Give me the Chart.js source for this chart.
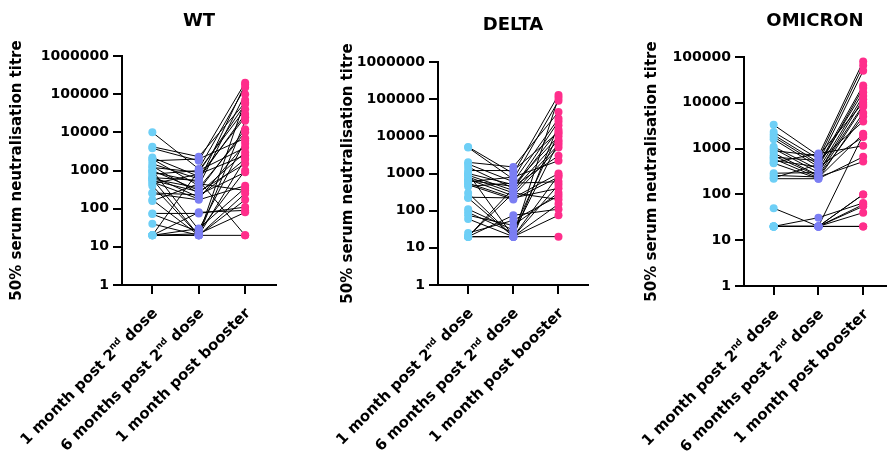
<!DOCTYPE html>
<html>
<head>
<meta charset="utf-8">
<script src="https://cdn.jsdelivr.net/npm/chart.js@4.4.1/dist/chart.umd.min.js"></script>
<style>
  html, body { margin: 0; padding: 0; background: #fff; }
  #wrap { position: relative; width: 890px; height: 459px; }
  canvas { position: absolute; left: 0; top: 0; }
</style>
</head>
<body>
<div id="wrap">
  <canvas id="grafico1" width="890" height="459"></canvas>
  <canvas id="grafico2" width="890" height="459"></canvas>
  <canvas id="grafico3" width="890" height="459"></canvas>
</div>
<script>
// categorias (eixo x) e ticks do eixo y
const timepoints = ['1 month post 2nd dose', '6 months post 2nd dose', '1 month post booster'];
const yTicksWide = [1, 10, 100, 1000, 10000, 100000, 1000000];
const yTicksOmicron = [1, 10, 100, 1000, 10000, 100000];
const yTitle = '50% serum neutralisation titre';

// WT - um valor por participante em cada tempo
const wtMonth1 = [10000, 4200, 3800, 2200, 2000, 1800, 1500, 1300, 1200, 1000, 900, 800, 700, 650, 600, 550, 500, 450, 400, 260, 250, 170, 160, 75, 72, 40, 20, 20, 20, 20, 20, 20, 1000, 600];
const wtMonth6 = [1100, 2300, 1800, 700, 400, 2000, 600, 250, 900, 300, 500, 1000, 200, 550, 350, 280, 180, 800, 20, 230, 170, 20, 450, 75, 25, 20, 30, 20, 80, 22, 1000, 20, 28, 20];
const wtBooster = [150000, 60000, 200000, 25000, 100000, 7000, 30000, 3000, 55000, 12000, 180000, 4000, 2000, 20, 10000, 1500, 5000, 2500, 20000, 900, 400, 70000, 300, 110, 1000, 250, 350, 170, 90, 80, 40000, 2000, 6000, 20];

// DELTA
const deltaMonth1 = [5200, 5000, 2000, 1800, 1500, 1200, 1000, 900, 800, 700, 650, 600, 550, 500, 450, 300, 230, 220, 110, 90, 75, 60, 25, 20, 20, 20, 20, 20, 20, 1000];
const deltaMonth6 = [1000, 700, 1500, 600, 400, 1200, 500, 350, 300, 250, 450, 800, 220, 200, 550, 20, 220, 20, 30, 25, 40, 20, 55, 20, 75, 20, 400, 300, 20, 20];
const deltaBooster = [130000, 90000, 45000, 30000, 25000, 13000, 10000, 8000, 6000, 5000, 3000, 2200, 1000, 800, 600, 110000, 400, 20000, 12000, 7000, 300, 500, 250, 20, 110, 900, 15000, 200, 75, 150];

// OMICRON
const omicronMonth1 = [3300, 2300, 2000, 1800, 1600, 1100, 1000, 900, 800, 700, 650, 600, 550, 500, 480, 290, 260, 230, 220, 50, 20, 20, 20, 20, 20, 20, 20, 20];
const omicronMonth6 = [700, 600, 500, 450, 400, 350, 300, 700, 260, 250, 550, 230, 400, 780, 220, 300, 240, 450, 220, 20, 31, 20, 20, 20, 20, 20, 20, 20];
const omicronBooster = [80000, 65000, 50000, 24000, 21000, 14000, 12000, 10000, 8200, 5000, 3900, 2100, 1800, 1150, 660, 9000, 520, 17000, 6000, 100, 65, 2000, 55, 40, 20, 20, 100, 60];

const pointColors = ['#6ECFF6', '#7B7EF3', '#FF2E8B'];

Chart.defaults.font.family = "'DejaVu Sans', sans-serif";
Chart.defaults.font.weight = 'bold';
Chart.defaults.color = '#000';

// painéis (posição da área do gráfico na página)
const panels = [
    { id: 'grafico1', title: 'WT', series: [wtMonth1, wtMonth6, wtBooster], yTicks: yTicksWide,
      area: { left: 122, top: 56, right: 276, bottom: 285 }, titleY: 21, yTitleX: 17.5, xMin: -0.654, xMax: 2.665 },
    { id: 'grafico2', title: 'DELTA', series: [deltaMonth1, deltaMonth6, deltaBooster], yTicks: yTicksWide,
      area: { left: 438, top: 62, right: 588, bottom: 285 }, titleY: 25.5, yTitleX: 348, xMin: -0.667, xMax: 2.653 },
    { id: 'grafico3', title: 'OMICRON', series: [omicronMonth1, omicronMonth6, omicronBooster], yTicks: yTicksOmicron,
      area: { left: 744, top: 57, right: 889, bottom: 286 }, titleY: 21.5, yTitleX: 652, xMin: -0.663, xMax: 2.51 }
];

// titulo e rótulos do eixo x (com sobrescrito em "2nd")
const labelsPlugin = {
    id: 'panelLabels',
    afterDraw(chart, args, opts) {
        const { ctx, chartArea } = chart;
        const x = chart.scales.x;
        ctx.save();
        ctx.fillStyle = '#000';
        ctx.font = "bold 18px 'DejaVu Sans'";
        ctx.textAlign = 'center';
        ctx.textBaseline = 'middle';
        ctx.fillText(opts.title, (chartArea.left + chartArea.right) / 2, opts.titleY);

        const big = "bold 15px 'DejaVu Sans'";
        const small = "bold 9px 'DejaVu Sans'";
        timepoints.forEach((lab, i) => {
            const m = lab.match(/^(.*\d)(nd|st|rd|th)(.*)$/);
            const parts = m ? [[m[1], big, 0], [m[2], small, -5], [m[3], big, 0]] : [[lab, big, 0]];
            let total = 0;
            parts.forEach(p => { ctx.font = p[1]; total += ctx.measureText(p[0]).width; });
            ctx.save();
            ctx.translate(x.getPixelForValue(i) + 3, chartArea.bottom + 26);
            ctx.rotate(-Math.PI / 4);
            ctx.textAlign = 'left';
            ctx.textBaseline = 'middle';
            let pos = -total;
            parts.forEach(p => {
                ctx.font = p[1];
                ctx.fillText(p[0], pos, p[2]);
                pos += ctx.measureText(p[0]).width;
            });
            ctx.restore();
        });
        ctx.restore();
    }
};

panels.forEach(p => {
    const n = p.series[0].length;
    const datasets = [];
    for (let i = 0; i < n; i++) {
        datasets.push({
            data: p.series.map((s, t) => ({ x: t, y: s[i] })),
            borderColor: '#000',
            borderWidth: 1,
            pointRadius: 0,
            order: 1
        });
    }
    p.series.forEach((s, t) => {
        datasets.push({
            data: s.map(v => ({ x: t, y: v })),
            showLine: false,
            pointRadius: 4,
            pointBorderWidth: 0,
            pointBackgroundColor: pointColors[t],
            order: 0
        });
    });

    const axisGrid = { drawOnChartArea: false, drawTicks: true, tickLength: 9, color: '#000', lineWidth: 2 };

    new Chart(document.getElementById(p.id), {
        type: 'line',
        data: { datasets },
        options: {
            responsive: false,
            animation: false,
            layout: { padding: { left: p.yTitleX - 9, top: p.area.top, right: 890 - p.area.right, bottom: 0 } },
            plugins: {
                legend: { display: false },
                tooltip: { enabled: false },
                panelLabels: { title: p.title, titleY: p.titleY }
            },
            scales: {
                x: {
                    type: 'linear',
                    min: p.xMin,
                    max: p.xMax,
                    afterBuildTicks: s => { s.ticks = [0, 1, 2].map(v => ({ value: v })); },
                    afterFit: s => { s.height = 459 - p.area.bottom; },
                    ticks: { display: false },
                    grid: axisGrid,
                    border: { color: '#000', width: 2 }
                },
                y: {
                    type: 'logarithmic',
                    min: 1,
                    max: p.yTicks[p.yTicks.length - 1],
                    afterBuildTicks: s => { s.ticks = p.yTicks.map(v => ({ value: v })); },
                    afterFit: s => { s.width = p.area.left - (p.yTitleX - 9); },
                    ticks: {
                        callback: v => String(v),
                        font: { size: 14, weight: 'bold' },
                        color: '#000',
                        padding: 4,
                        autoSkip: false
                    },
                    grid: axisGrid,
                    border: { color: '#000', width: 2 },
                    title: {
                        display: true,
                        text: yTitle,
                        font: { size: 15, weight: 'bold' },
                        color: '#000',
                        padding: 0
                    }
                }
            }
        },
        plugins: [labelsPlugin]
    });
});
</script>
</body>
</html>
